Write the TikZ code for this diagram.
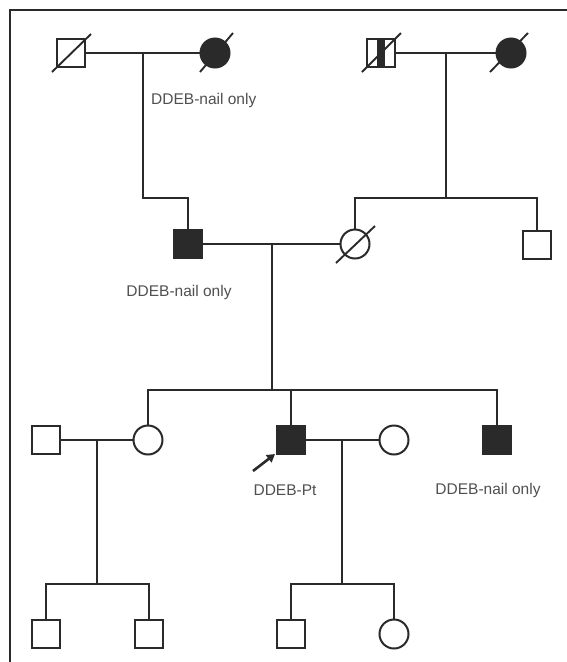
\documentclass[tikz,border=0pt]{standalone}
\usepackage{fontspec}
\setmainfont{Liberation Sans}
\usetikzlibrary{arrows.meta}
\definecolor{ink}{HTML}{2A2A2A}
\definecolor{txt}{HTML}{505050}
\tikzset{
  male/.style={draw=ink, line width=2pt, fill=white, minimum size=28pt, inner sep=0pt, shape=rectangle},
  female/.style={draw=ink, line width=2pt, fill=white, minimum size=29pt, inner sep=0pt, shape=circle},
  affected/.style={fill=ink},
  line/.style={draw=ink, line width=1.9pt},
  dead/.style={draw=ink, line width=1.9pt},
  lbl/.style={text=txt, font=\fontsize{15.5}{17}\selectfont, inner sep=0pt},
}
\begin{document}
\begin{tikzpicture}[x=1pt,y=-1pt]
\useasboundingbox (0,0) rectangle (567,662);
\fill[white] (0,0) rectangle (567,662);
% frame (top and left only)
\coordinate (frTL) at (10,10);
\coordinate (frTR) at (567,10);
\coordinate (frBL) at (10,662);
\draw[line width=1.3pt, draw=ink] (frTR) -- (frTL) -- (frBL);

% generation I
\node[male] (gf1) at (71,53) {};
\node[female, affected] (gm1) at (215,53) {};
\node[male] (gf2) at (381,53) {};
\fill[ink] ([xshift=-4pt]gf2.north) rectangle ([xshift=4pt]gf2.south);
\node[female, affected] (gm2) at (511,53) {};
\draw[dead] ([shift={(-19,19)}]gf1.center) -- ([shift={(20,-19)}]gf1.center);
\draw[dead] ([shift={(-15,19)}]gm1.center) -- ([shift={(18,-20)}]gm1.center);
\draw[dead] ([shift={(-19,19)}]gf2.center) -- ([shift={(20,-20)}]gf2.center);
\draw[dead] ([shift={(-21,19)}]gm2.center) -- ([shift={(17,-20)}]gm2.center);
\draw[line] (gf1.east) -- (gm1.west);
\draw[line] (gf2.east) -- (gm2.west);
\coordinate (m1) at (143,53);
\coordinate (m2) at (446,53);
\node[lbl, anchor=west] (l1) at (151,100) {DDEB-nail only};

% generation II
\node[male, affected] (f) at (188,244) {};
\node[female] (mo) at (355,244) {};
\draw[dead] ([shift={(-19,19)}]mo.center) -- ([shift={(20,-18)}]mo.center);
\node[male] (u) at (537,245) {};
\coordinate (b1) at (143,198);
\coordinate (b1r) at (188,198);
\coordinate (s2l) at (355,198);
\coordinate (s2m) at (446,198);
\coordinate (s2r) at (537,198);
\draw[line] (m1) -- (b1) -- (b1r) -- (f.north);
\draw[line] (m2) -- (s2m);
\draw[line] (mo.north) -- (s2l) -- (s2r) -- (u.north);
\draw[line] (f.east) -- (mo.west);
\node[lbl] (l2) at (179,292) {DDEB-nail only};

% generation III
\coordinate (m3) at (272,244);
\coordinate (s3m) at (272,390);
\coordinate (s3l) at (148,390);
\coordinate (s3r) at (497,390);
\node[male] (h1) at (46,440) {};
\node[female] (d1) at (148,440) {};
\node[male, affected] (p) at (291,440) {};
\node[female] (w) at (394,440) {};
\node[male, affected] (b) at (497,440) {};
\draw[line] (m3) -- (s3m);
\draw[line] (d1.north) -- (s3l) -- (s3r) -- (b.north);
\draw[line] (p.north) -- (p.north |- s3m);
\draw[line] (h1.east) -- (d1.west);
\draw[line] (p.east) -- (w.west);
\coordinate (arS) at (253,471);
\coordinate (arE) at (275,454);
\draw[draw=ink, line width=2.6pt, -{Triangle[length=8pt,width=9pt]}] (arS) -- (arE);
\node[lbl] (l3) at (285,490) {DDEB-Pt};
\node[lbl] (l4) at (488,490) {DDEB-nail only};

% generation IV
\coordinate (m4) at (97,440);
\coordinate (s4m) at (97,584);
\coordinate (m5) at (342,440);
\coordinate (s5m) at (342,584);
\node[male] (c1) at (46,634) {};
\node[male] (c2) at (149,634) {};
\node[male] (c3) at (291,634) {};
\node[female] (c4) at (394,634) {};
\draw[line] (m4) -- (s4m);
\draw[line] (c1.north) -- (c1.north |- s4m) -- (c2.north |- s4m) -- (c2.north);
\draw[line] (m5) -- (s5m);
\draw[line] (c3.north) -- (c3.north |- s5m) -- (c4.north |- s5m) -- (c4.north);
\end{tikzpicture}
\end{document}
